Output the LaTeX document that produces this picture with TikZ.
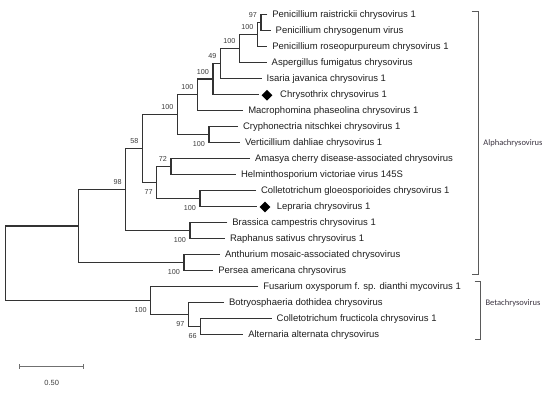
\documentclass[tikz,border=0pt]{standalone}
\usepackage{fontspec}
\setmainfont{Liberation Sans}
\newfontfamily\cladefont{Carlito}
\usetikzlibrary{shapes.geometric}
\definecolor{treeline}{HTML}{333333}
\definecolor{tipcol}{HTML}{1E1E1E}
\definecolor{bscol}{HTML}{3C3C3C}
\definecolor{brackcol}{HTML}{5A5A5A}
\definecolor{cladecol}{HTML}{3A3340}
\definecolor{scalecol}{HTML}{707070}
\begin{document}
\begin{tikzpicture}[x=1pt,y=-1pt,
  br/.style={draw=treeline, line width=1.25pt},
  tiplab/.style={anchor=base west, inner sep=0pt, font=\fontsize{9.5}{11}\selectfont, text=tipcol, xshift=4.8pt, yshift=-3.4pt},
  bsa/.style={anchor=east, inner sep=0pt, font=\fontsize{7.2}{8}\selectfont, text=bscol, xshift=-3.8pt, yshift=7.3pt},
  bsb/.style={anchor=east, inner sep=0pt, font=\fontsize{7.2}{8}\selectfont, text=bscol, xshift=-3.8pt, yshift=-9.2pt},
  gem/.style={diamond, fill=black, inner sep=0pt, minimum size=11pt},
  brack/.style={draw=brackcol, line width=0.9pt},
  cladelab/.style={font=\cladefont\fontsize{8.5}{10}\selectfont, text=cladecol, inner sep=0pt}
]
\useasboundingbox (0,0) rectangle (550,396);
% tips (line ends)
\coordinate (t1) at (267.3,14.5);
\coordinate (t2) at (270.7,30.5);
\coordinate (t3) at (267.3,46.5);
\coordinate (t4) at (266.7,62.5);
\coordinate (t5) at (261.7,78.5);
\coordinate (t6) at (259,94.5);
\coordinate (t7) at (243.3,110.5);
\coordinate (t8) at (238,126.5);
\coordinate (t9) at (240,142.5);
\coordinate (t10) at (250,158.5);
\coordinate (t11) at (236,174.5);
\coordinate (t12) at (256,190.5);
\coordinate (t13) at (257,206.5);
\coordinate (t14) at (227.3,222.5);
\coordinate (t15) at (225,238.5);
\coordinate (t16) at (220,254.5);
\coordinate (t17) at (213.3,270.5);
\coordinate (t18) at (258.3,286.5);
\coordinate (t19) at (224,302.5);
\coordinate (t20) at (271.7,318.5);
\coordinate (t21) at (243.3,334.5);
% internal nodes
\coordinate (n97) at (261,22.5);
\coordinate (nR) at (257.3,34.5);
\coordinate (nA) at (239.3,48.5);
\coordinate (n49) at (220.5,63.5);
\coordinate (nC) at (213,79);
\coordinate (nM) at (197.3,94.75);
\coordinate (nCV) at (209,134.5);
\coordinate (nT) at (177.5,114.6);
\coordinate (n72) at (171,166.5);
\coordinate (nCL) at (200,198.5);
\coordinate (n77) at (156.7,182.5);
\coordinate (n58) at (142.3,148.6);
\coordinate (nBR) at (190,230.5);
\coordinate (n98) at (125.7,189.5);
\coordinate (nAP) at (184,262.5);
\coordinate (nAl) at (78.3,226);
\coordinate (n66) at (200.7,326.5);
\coordinate (nBo) at (188.3,314.5);
\coordinate (nBe) at (150.7,300.5);
\coordinate (root) at (5.7,263.25);
% branches
\draw[br] (t1) -- (n97 |- t1) -- (n97 |- t2) -- (t2);
\draw[br] (n97) -- (nR |- n97) -- (nR |- t3) -- (t3);
\draw[br] (nR) -- (nA |- nR) -- (nA |- t4) -- (t4);
\draw[br] (nA) -- (n49 |- nA) -- (n49 |- t5) -- (t5);
\draw[br] (n49) -- (nC |- n49) -- (nC |- t6) -- (t6);
\draw[br] (nC) -- (nM |- nC) -- (nM |- t7) -- (t7);
\draw[br] (t8) -- (nCV |- t8) -- (nCV |- t9) -- (t9);
\draw[br] (nM) -- (nT |- nM) -- (nT |- nCV) -- (nCV);
\draw[br] (t10) -- (n72 |- t10) -- (n72 |- t11) -- (t11);
\draw[br] (t12) -- (nCL |- t12) -- (nCL |- t13) -- (t13);
\draw[br] (n72) -- (n77 |- n72) -- (n77 |- nCL) -- (nCL);
\draw[br] (nT) -- (n58 |- nT) -- (n58 |- n77) -- (n77);
\draw[br] (t14) -- (nBR |- t14) -- (nBR |- t15) -- (t15);
\draw[br] (n58) -- (n98 |- n58) -- (n98 |- nBR) -- (nBR);
\draw[br] (t16) -- (nAP |- t16) -- (nAP |- t17) -- (t17);
\draw[br] (n98) -- (nAl |- n98) -- (nAl |- nAP) -- (nAP);
\draw[br] (t20) -- (n66 |- t20) -- (n66 |- t21) -- (t21);
\draw[br] (t19) -- (nBo |- t19) -- (nBo |- n66) -- (n66);
\draw[br] (t18) -- (nBe |- t18) -- (nBe |- nBo) -- (nBo);
\draw[br] (nAl) -- (root |- nAl) -- (root |- nBe) -- (nBe);
% diamonds
\node[gem] (d6) at (267,95.3) {};
\node[gem] (d13) at (265,207) {};
% tip labels
\node[tiplab] (l1) at (t1) {Penicillium raistrickii chrysovirus 1};
\node[tiplab] (l2) at (t2) {Penicillium chrysogenum virus};
\node[tiplab] (l3) at (t3) {Penicillium roseopurpureum chrysovirus 1};
\node[tiplab] (l4) at (t4) {Aspergillus fumigatus chrysovirus};
\node[tiplab] (l5) at (t5) {Isaria javanica chrysovirus 1};
\node[tiplab, xshift=-4.8pt] (l6) at (280,94.5) {Chrysothrix chrysovirus 1};
\node[tiplab] (l7) at (t7) {Macrophomina phaseolina chrysovirus 1};
\node[tiplab] (l8) at (t8) {Cryphonectria nitschkei chrysovirus 1};
\node[tiplab] (l9) at (t9) {Verticillium dahliae chrysovirus 1};
\node[tiplab] (l10) at (t10) {Amasya cherry disease-associated chrysovirus};
\node[tiplab] (l11) at (t11) {Helminthosporium victoriae virus 145S};
\node[tiplab] (l12) at (t12) {Colletotrichum gloeosporioides chrysovirus 1};
\node[tiplab, xshift=-4.8pt] (l13) at (276.7,206.5) {Lepraria chrysovirus 1};
\node[tiplab] (l14) at (t14) {Brassica campestris chrysovirus 1};
\node[tiplab] (l15) at (t15) {Raphanus sativus chrysovirus 1};
\node[tiplab] (l16) at (t16) {Anthurium mosaic-associated chrysovirus};
\node[tiplab] (l17) at (t17) {Persea americana chrysovirus};
\node[tiplab] (l18) at (t18) {Fusarium oxysporum f. sp. dianthi mycovirus 1};
\node[tiplab] (l19) at (t19) {Botryosphaeria dothidea chrysovirus};
\node[tiplab] (l20) at (t20) {Colletotrichum fructicola chrysovirus 1};
\node[tiplab] (l21) at (t21) {Alternaria alternata chrysovirus};
% bootstrap values
\node[bsa] (b97) at (n97) {97};
\node[bsa] (bR) at (nR) {100};
\node[bsa] (bA) at (nA) {100};
\node[bsa] (b49) at (n49) {49};
\node[bsa] (bC) at (nC) {100};
\node[bsa] (bM) at (nM) {100};
\node[bsa] (bT) at (nT) {100};
\node[bsb] (bCV) at (nCV) {100};
\node[bsa] (b72) at (n72) {72};
\node[bsb] (bCL) at (nCL) {100};
\node[bsb] (b77) at (n77) {77};
\node[bsa] (b58) at (n58) {58};
\node[bsb] (bBR) at (nBR) {100};
\node[bsa] (b98) at (n98) {98};
\node[bsb] (bAP) at (nAP) {100};
\node[bsb] (b66) at (n66) {66};
\node[bsb] (bBo) at (nBo) {97};
\node[bsb] (bBe) at (nBe) {100};
% clade brackets
\coordinate (aT) at (478,11.7);
\coordinate (aB) at (478,274.3);
\draw[brack] ([xshift=-6.5pt]aT) -- (aT) -- (aB) -- ([xshift=-6pt]aB);
\coordinate (bT) at (480,281.7);
\coordinate (bB) at (480,339.5);
\draw[brack] ([xshift=-5.5pt]bT) -- (bT) -- (bB) -- ([xshift=-5.5pt]bB);
\node[cladelab] (alpha) at (513,143) {Alphachrysovirus};
\node[cladelab] (beta) at (513,303) {Betachrysovirus};
% scale bar
\coordinate (s1) at (19.3,366.7);
\coordinate (s2) at (83.3,366.7);
\draw[draw=scalecol, line width=1.2pt] (s1) -- (s2);
\draw[draw=scalecol, line width=0.9pt] ([yshift=2.6pt]s1) -- ([yshift=-2.6pt]s1);
\draw[draw=scalecol, line width=0.9pt] ([yshift=2.6pt]s2) -- ([yshift=-2.6pt]s2);
\node[inner sep=0pt, font=\fontsize{7.5}{9}\selectfont, text=bscol] (scl) at (51.7,383.3) {0.50};
\end{tikzpicture}
\end{document}
